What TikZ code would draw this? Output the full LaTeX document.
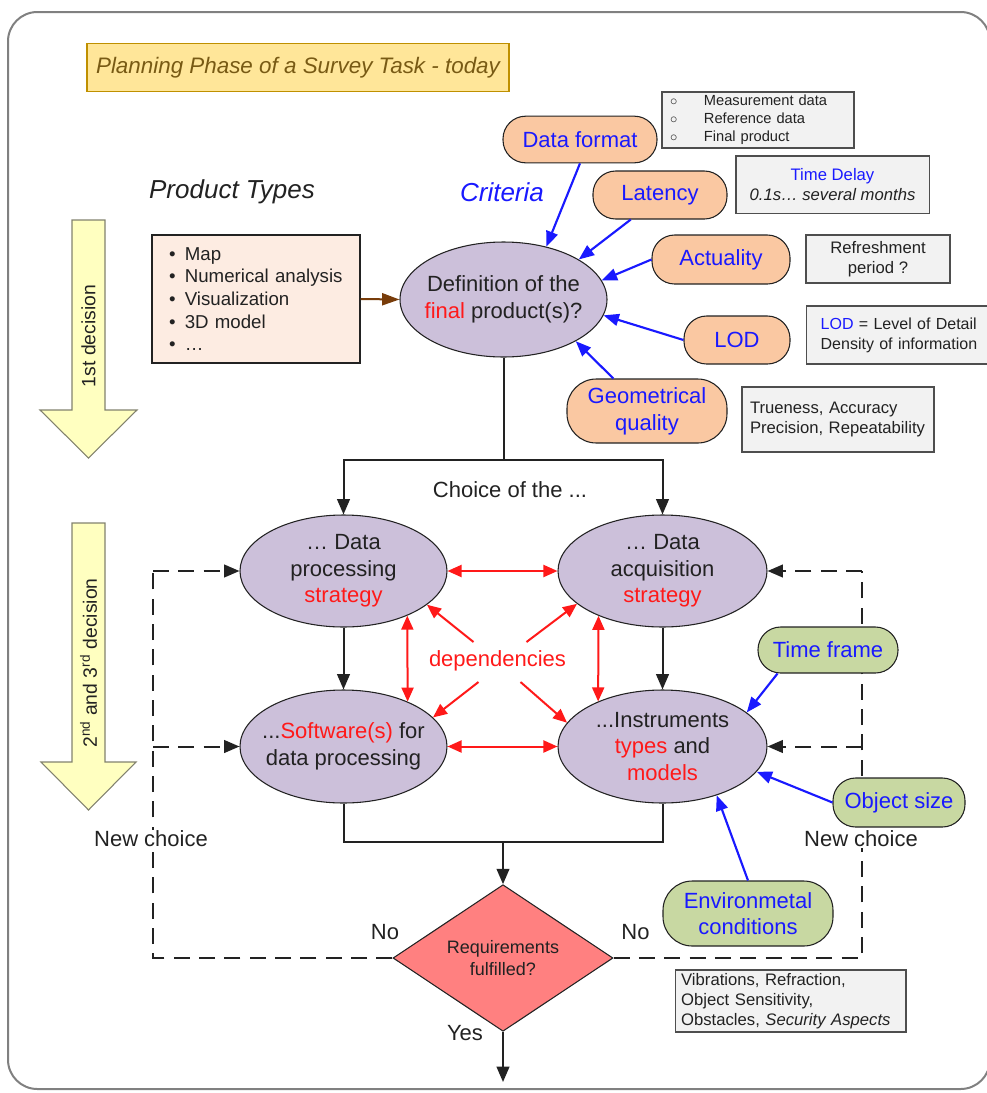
\documentclass[tikz,border=0pt]{standalone}
\usepackage{fontspec}
\setmainfont{Liberation Sans}
\usetikzlibrary{arrows.meta,shapes.geometric,calc,backgrounds}
\definecolor{lav}{RGB}{204,192,218}
\definecolor{peach}{RGB}{250,200,162}
\definecolor{sage}{RGB}{200,216,162}
\definecolor{boxgray}{RGB}{242,242,242}
\definecolor{prodfill}{RGB}{253,236,226}
\definecolor{titlefill}{RGB}{255,230,153}
\definecolor{titledraw}{RGB}{191,144,0}
\definecolor{titletext}{RGB}{120,90,20}
\definecolor{decfill}{RGB}{255,255,192}
\definecolor{decdraw}{RGB}{130,130,110}
\definecolor{diafill}{RGB}{255,128,128}
\definecolor{myblue}{RGB}{25,25,255}
\definecolor{myred}{RGB}{255,25,25}
\definecolor{brownarr}{RGB}{120,60,10}
\definecolor{ink}{RGB}{34,34,34}
\definecolor{framegray}{RGB}{128,128,128}
\newcommand{\fsM}{\fontsize{16.5}{20}\selectfont}
\newcommand{\fsTi}{\fontsize{16.8}{20}\selectfont}
\newcommand{\fsL}{\fontsize{19.5}{23}\selectfont}
\newcommand{\fsP}{\fontsize{14}{17}\selectfont}
\newcommand{\fsD}{\fontsize{14.5}{17}\selectfont}
\newcommand{\fsS}{\fontsize{12.5}{15}\selectfont}
\newcommand{\fsV}{\fontsize{12}{15}\selectfont}
\newcommand{\fsW}{\fontsize{12.5}{15}\selectfont}
\newcommand{\fsT}{\fontsize{11}{13.5}\selectfont}
\newcommand{\fsR}{\fontsize{13.5}{16}\selectfont}
\begin{document}
\begin{tikzpicture}[x=0.75pt,y=-0.75pt,
 ell/.style={ellipse,draw=ink,line width=0.8pt,fill=lav,inner sep=-14pt,align=center,font=\fsM,text=ink},
 pill/.style={rectangle,rounded corners=17pt,draw=ink,line width=0.8pt,inner sep=0pt,align=center,font=\fsM,text=myblue},
 gbox/.style={rectangle,draw=ink!80,line width=1pt,fill=boxgray,inner sep=0pt,font=\fsS,text=ink},
 flow/.style={draw=ink,line width=1.5pt},
 withtip/.style={-{Triangle[length=11.5pt,width=9.5pt]}},
 barrow/.style={draw=myblue,line width=1.6pt,-{Triangle[length=11.5pt,width=9pt]}},
 rarrow/.style={draw=myred,line width=1.5pt,{Triangle[length=10.5pt,width=9pt]}-{Triangle[length=10.5pt,width=9pt]}},
 rsingle/.style={draw=myred,line width=1.5pt,-{Triangle[length=10.5pt,width=9pt]}},
 dashline/.style={draw=ink,line width=1.5pt,dash pattern=on 12pt off 7pt},
 lbl/.style={font=\fsM,text=ink,inner sep=1pt},
 decarrow/.style={draw=decdraw,line width=0.8pt,fill=decfill}
]
\useasboundingbox (0,0) rectangle (986,1093);

% title and headings
\node[rectangle,draw=titledraw,fill=titlefill,line width=0.8pt,minimum width=316.5pt,minimum height=36pt,font=\fsTi\itshape,text=titletext] (title) at (298,67.5) {Planning Phase of a Survey Task - today};
\node[font=\fsL\itshape,text=ink] (ptypes) at (232,192) {Product Types};
\node[font=\fsL\itshape,text=myblue] (crit) at (502,192) {Criteria};

% criteria
\node[gbox,minimum height=42pt,inner xsep=6pt,text width=132pt,align=left,font=\fsT] (meas) at (758,120) {$\circ$\hspace{20pt}Measurement data\\$\circ$\hspace{20pt}Reference data\\$\circ$\hspace{20pt}Final product};
\node[pill,fill=peach,minimum width=115.5pt,minimum height=35pt] (df) at (580,139.5) {Data format};
\node[pill,fill=peach,minimum width=100.5pt,minimum height=36pt] (lat) at (660,195) {Latency};
\node[gbox,minimum width=145pt,minimum height=43pt,align=center] (td) at (832.5,184.5) {\textcolor{myblue}{Time Delay}\\\textit{0.1s… several months}};
\node[pill,fill=peach,minimum width=103.5pt,minimum height=36.75pt] (act) at (721,259.5) {Actuality};
\node[gbox,minimum width=108pt,minimum height=36pt,align=center] (refr) at (878,259) {Refreshment\\period ?};
\node[pill,fill=peach,minimum width=79.5pt,minimum height=36pt] (lod) at (737,340) {LOD};
\node[gbox,anchor=west,minimum height=43.5pt,inner xsep=10.5pt,text width=130pt,align=left,font=\fsV] (lodbox) at (806,335) {\textcolor{myblue}{LOD} = Level of Detail\\Density of information};
\node[pill,fill=peach,minimum width=120pt,minimum height=48pt,rounded corners=22pt] (geo) at (647,411) {Geometrical\\quality};
\node[gbox,minimum height=48.75pt,inner xsep=6pt,text width=132pt,align=left] (tru) at (838,419.5) {Trueness, Accuracy\\Precision, Repeatability};

% product types
\node[rectangle,draw=ink,line width=1pt,fill=prodfill,minimum height=96pt,inner xsep=12.75pt,text width=130.5pt,align=left,font=\fsP,text=ink] (prod) at (256,299) {\textbullet\hspace{7pt}Map\\\textbullet\hspace{7pt}Numerical analysis\\\textbullet\hspace{7pt}Visualization\\\textbullet\hspace{7pt}3D model\\\textbullet\hspace{7pt}…};

% main ellipses
\node[ell,minimum width=155.25pt,minimum height=86.25pt] (def) at (503.5,299.5) {Definition of the\\\textcolor{myred}{final} product(s)?};
\node[ell,minimum width=155.25pt,minimum height=84pt] (dp) at (343.5,571) {… Data\\processing\\\textcolor{myred}{strategy}};
\node[ell,minimum width=156.75pt,minimum height=84pt] (da) at (662.5,571) {… Data\\acquisition\\\textcolor{myred}{strategy}};
\node[ell,minimum width=155.25pt,minimum height=84.75pt] (sw) at (343.5,746.5) {...\textcolor{myred}{Software(s)} for\\data processing};
\node[ell,minimum width=156.75pt,minimum height=84.75pt] (ins) at (662.5,746.5) {...Instruments\\\textcolor{myred}{types} and\\\textcolor{myred}{models}};

\node[lbl] (choice) at (510,490) {Choice of the ...};
\node[lbl,text=myred] (dep) at (497.5,661) {dependencies};

% decision
\node[diamond,draw=ink,line width=0.8pt,fill=diafill,minimum width=165pt,minimum height=89.25pt,inner sep=0pt,align=center,font=\fsR,text=ink] (dia) at (503,958) {Requirements\\fulfilled?};

% conditions
\node[pill,fill=sage,minimum width=105pt,minimum height=34.5pt] (tf) at (828,650) {Time frame};
\node[pill,fill=sage,minimum width=99pt,minimum height=36.75pt] (os) at (899,802.5) {Object size};
\node[pill,fill=sage,minimum width=127.5pt,minimum height=48.75pt,rounded corners=22pt] (env) at (748,913.5) {Environmetal\\conditions};
\node[gbox,minimum height=46.5pt,inner xsep=4.5pt,text width=164pt,align=left,font=\fsW] (vib) at (790.5,1001) {Vibrations, Refraction,\\Object Sensitivity,\\Obstacles, \textit{Security Aspects}};

% labels
\node[lbl,fill=white] (ncl) at (151,839) {New choice};
\node[lbl,fill=white] (ncr) at (861,839) {New choice};
\node[lbl] (nol) at (385,932) {No};
\node[lbl] (nor) at (635.5,932) {No};
\node[lbl] (yes) at (465,1033) {Yes};

% decision arrows
\draw[decarrow] (72,220) -- (105,220) -- (105,410) -- (137,410) -- (88.5,458) -- (40,410) -- (72,410) -- cycle;
\node[rotate=90,font=\fsD,text=ink] (dec1) at (88.5,336) {1st decision};
\draw[decarrow] (72,523) -- (105,523) -- (105,762) -- (136,762) -- (88.5,810) -- (41,762) -- (72,762) -- cycle;
\node[rotate=90,font=\fsD,text=ink] (dec2) at (88.5,663) {2\textsuperscript{nd} and 3\textsuperscript{rd} decision};

% connectors
\draw[draw=brownarr,line width=1.5pt,-{Triangle[length=13pt,width=9pt]}] (prod.east) -- (def.west);
\draw[barrow] (df.south) -- (def.51);
\draw[barrow] (lat.-140) -- (def.28);
\draw[barrow] (act.west) -- (def.11);
\draw[barrow] (lod.west) -- (def.-9);
\draw[barrow] (geo.136) -- (def.-30);

\coordinate (J1) at (503.5,460);
\draw[flow] (def.south) -- (J1);
\draw[flow,withtip] (J1) -| (dp.north);
\draw[flow,withtip] (J1) -| (da.north);
\draw[flow,withtip] (dp.south) -- (sw.north);
\draw[flow,withtip] (da.south) -- (ins.north);
\coordinate (J2) at (503,842);
\draw[flow] (sw.south) |- (J2) -| (ins.south);
\draw[flow,withtip] (J2) -- (dia.north);
\coordinate (out) at (503,1082);
\draw[flow,withtip] (dia.south) -- (out);

\draw[rarrow] (dp.east) -- (da.west);
\draw[rarrow] (sw.east) -- (ins.west);
\draw[rarrow] (dp.-35) -- (sw.35);
\draw[rarrow] (da.-145) -- (ins.145);
\draw[rsingle] ($(dep.center)+(-24,-19)$) -- (dp.-22);
\draw[rsingle] ($(dep.center)+(-19,21)$) -- (sw.18);
\draw[rsingle] ($(dep.center)+(29,-19)$) -- (da.201);
\draw[rsingle] ($(dep.center)+(23,21)$) -- (ins.166);

\draw[barrow] (tf.-155) -- (ins.22);
\draw[barrow] (os.west) -- (ins.-15);
\draw[barrow] (env.north) -- (ins.-42);

\begin{scope}[on background layer]
\draw[framegray,line width=1.5pt,rounded corners=22pt] (8,12) rectangle (990,1089);
\coordinate (LB) at (153,958);
\coordinate (LT) at (153,571);
\coordinate (LM) at (153,746.5);
\coordinate (RB) at (862,958);
\coordinate (RT) at (862,571);
\coordinate (RM) at (862,746.5);
\draw[dashline] (dia.west) -- (LB) -- (LT);
\draw[dashline,withtip] (LT) -- (dp.west);
\draw[dashline,withtip] (LM) -- (sw.west);
\draw[dashline] (dia.east) -- (RB) -- (RT);
\draw[dashline,withtip] (RT) -- (da.east);
\draw[dashline,withtip] (RM) -- (ins.east);
\end{scope}
\end{tikzpicture}
\end{document}
